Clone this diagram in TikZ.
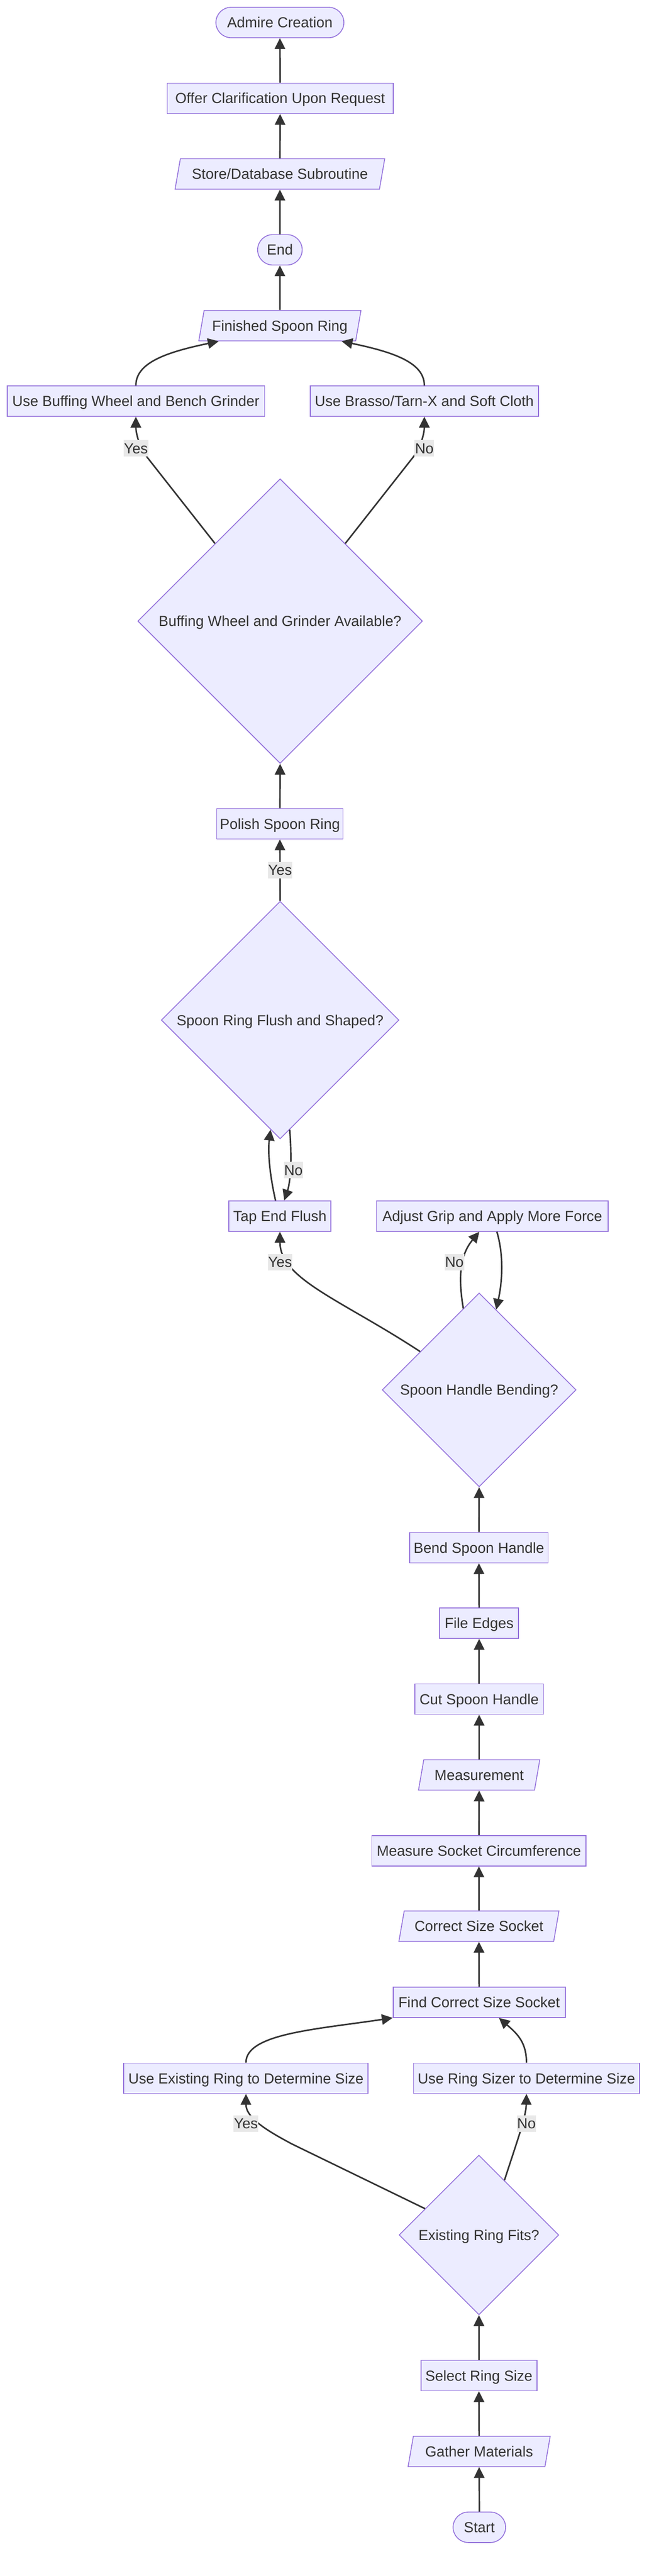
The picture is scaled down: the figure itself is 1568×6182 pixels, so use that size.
\documentclass[tikz,border=0pt]{standalone}
\usepackage{fontspec}
\setmainfont{Liberation Sans}
\usetikzlibrary{shapes.geometric,arrows.meta,calc}
\definecolor{nodef}{HTML}{ECECFF}
\definecolor{nodeb}{HTML}{9370DB}
\definecolor{edgec}{HTML}{333333}
\definecolor{txt}{HTML}{333333}
\definecolor{labf}{HTML}{E8E8E8}
\newcommand\nodefont{\fontsize{35pt}{42pt}\selectfont}
\tikzset{
  base/.style={draw=nodeb, fill=nodef, line width=2pt, text=txt, font=\nodefont,
    inner sep=0pt, minimum height=73pt, text height=25pt, text depth=0pt, align=center},
  box/.style={base, rectangle},
  term/.style={base, rectangle, rounded corners=36.5pt},
  para/.style={base, trapezium, trapezium left angle=63.1, trapezium right angle=116.9,
    trapezium stretches body},
  dec/.style={base, diamond, aspect=1},
  edge/.style={draw=edgec, line width=3.6pt, -{Triangle[length=26pt,width=25pt]}},
  elabel/.style={fill=labf, text=txt, font=\nodefont, inner sep=0pt, inner xsep=1pt,
    minimum height=40pt, text height=25pt, text depth=0pt},
}
\begin{document}
\begin{tikzpicture}[x=1pt,y=-1pt]
\fill[white] (0,0) rectangle (1568,6182);
\useasboundingbox (0,0) rectangle (1568,6182);

% nodes
\node[term, minimum width=307pt] (admire) at (671.5,54) {Admire Creation};
\node[box, minimum width=542pt] (offer) at (672,236) {Offer Clarification Upon Request};
\node[para, minimum width=503pt] (store) at (671.5,417.5) {Store/Database Subroutine};
\node[term, minimum width=107pt] (end) at (671.5,599.5) {End};
\node[para, minimum width=389pt] (finished) at (671.5,781.5) {Finished Spoon Ring};
\node[box, minimum width=618pt] (buffing) at (326,962.5) {Use Buffing Wheel and Bench Grinder};
\node[box, minimum width=548pt] (brasso) at (1018,962.5) {Use Brasso/Tarn-X and Soft Cloth};
\node[dec, minimum width=683pt, minimum height=683pt] (buffq) at (672,1490.5) {Buffing Wheel and Grinder Available?};
\node[box, minimum width=303pt] (polish) at (671.5,1977) {Polish Spoon Ring};
\node[dec, minimum width=570pt, minimum height=570pt] (flushq) at (672,2448) {Spoon Ring Flush and Shaped?};
\node[box, minimum width=245pt] (tap) at (671.5,2918.5) {Tap End Flush};
\node[box, minimum width=556pt] (adjust) at (1181,2918.5) {Adjust Grip and Apply More Force};
\node[dec, minimum width=465pt, minimum height=465pt] (bendq) at (1149.5,3335.5) {Spoon Handle Bending?};
\node[box, minimum width=332pt] (bend) at (1149,3714) {Bend Spoon Handle};
\node[box, minimum width=189pt] (file) at (1149.5,3895.5) {File Edges};
\node[box, minimum width=309pt] (cut) at (1149.5,4077.5) {Cut Spoon Handle};
\node[para, minimum width=291pt] (meas) at (1149.5,4259.5) {Measurement};
\node[box, minimum width=514pt] (circ) at (1149,4441.5) {Measure Socket Circumference};
\node[para, minimum width=384pt] (correct) at (1149,4622.5) {Correct Size Socket};
\node[box, minimum width=413pt] (find) at (1149.5,4805) {Find Correct Size Socket};
\node[box, minimum width=586pt] (existing) at (590,4987.5) {Use Existing Ring to Determine Size};
\node[box, minimum width=542pt] (sizer) at (1263,4987.5) {Use Ring Sizer to Determine Size};
\node[dec, minimum width=383pt, minimum height=383pt] (fitsq) at (1149,5363.5) {Existing Ring Fits?};
\node[box, minimum width=278pt] (select) at (1149,5701) {Select Ring Size};
\node[para, minimum width=341pt] (gather) at (1149.5,5883) {Gather Materials};
\node[term, minimum width=126pt] (start) at (1150,6065) {Start};

% edges
\draw[edge] (offer.north) -- (admire.south);
\draw[edge] (store.north) -- (offer.south);
\draw[edge] (end.north) -- (store.south);
\draw[edge] (finished.north) -- (end.south);
\draw[edge] (buffing.north) .. controls (326,870) and (400,845) .. ([xshift=-147pt]finished.south);
\draw[edge] (brasso.north) .. controls (1018,870) and (944,845) .. ([xshift=148pt]finished.south);
\draw[edge] (buffq.130) -- (352,1096) .. controls (335,1075) and (326,1040) .. (buffing.south);
\draw[edge] (buffq.50) -- (992,1096) .. controls (1009,1075) and (1018,1040) .. (brasso.south);
\draw[edge] (polish.north) -- (buffq.south);
\draw[edge] (flushq.north) -- (polish.south);
\draw[edge] (flushq.-85) .. controls (702,2800) and (694,2845) .. ([xshift=10.5pt]tap.north);
\draw[edge] ([xshift=-10.5pt]tap.north) .. controls (645,2810) and (643,2760) .. (flushq.-95);
\draw[edge] (bendq.147) .. controls (820,3120) and (672,3070) .. (tap.south);
\draw[edge] (bendq.101) .. controls (1098,3060) and (1105,3010) .. ([xshift=-31pt]adjust.south);
\draw[edge] ([xshift=11pt]adjust.south) .. controls (1208,3010) and (1206,3070) .. (bendq.78);
\draw[edge] (bend.north) -- (bendq.south);
\draw[edge] (file.north) -- (bend.south);
\draw[edge] (cut.north) -- (file.south);
\draw[edge] (meas.north) -- (cut.south);
\draw[edge] (circ.north) -- (meas.south);
\draw[edge] (correct.north) -- (circ.south);
\draw[edge] (find.north) -- (correct.south);
\draw[edge] (existing.north) .. controls (590,4880) and (760,4870) .. (find.south west);
\draw[edge] (sizer.north) .. controls (1263,4900) and (1240,4880) .. ([xshift=47.5pt]find.south);
\draw[edge] (fitsq.154) -- (700,5145) .. controls (650,5118) and (590,5085) .. (existing.south);
\draw[edge] (fitsq.65) .. controls (1240,5140) and (1262,5080) .. (sizer.south);
\draw[edge] (select.north) -- (fitsq.south);
\draw[edge] (gather.north) -- (select.south);
\draw[edge] (start.north) -- (gather.south);

% edge labels
\node[elabel] (l1) at (326,1076) {Yes};
\node[elabel] (l2) at (1018,1076) {No};
\node[elabel] (l3) at (672,2088) {Yes};
\node[elabel] (l4) at (704,2808) {No};
\node[elabel] (l5) at (672,3029) {Yes};
\node[elabel] (l6) at (1090,3029) {No};
\node[elabel] (l7) at (590,5096) {Yes};
\node[elabel] (l8) at (1263,5096) {No};
\end{tikzpicture}
\end{document}
